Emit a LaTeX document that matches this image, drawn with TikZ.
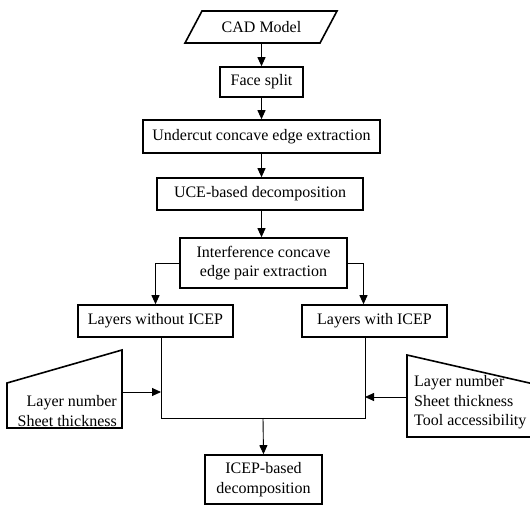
\documentclass[tikz,border=0pt]{standalone}
\usepackage{fontspec}
\setmainfont{Liberation Serif}
\usetikzlibrary{arrows.meta,calc}
\tikzset{
  box/.style={draw, line width=1.6pt, rectangle, inner sep=0pt, align=center, font=\fontsize{16}{19.5}\selectfont},
  txt/.style={inner sep=0pt, font=\fontsize{16}{19.5}\selectfont},
  conn/.style={line width=0.9pt},
  arr/.style={line width=0.9pt, -{Triangle[length=9pt,width=8pt]}},
  shp/.style={line width=1.6pt},
}
\begin{document}
\begin{tikzpicture}[x=1pt,y=-1pt]
\useasboundingbox (0,0) rectangle (530,506);
\clip (0,0) rectangle (530,506);
% CAD model (data shape)
\draw[shp] (202,11) -- (337,11) -- (320,43) -- (185,43) -- cycle;
\node[txt, minimum width=118pt, minimum height=32pt] (cad) at (261.5,27) {CAD Model};
% process boxes
\node[box, minimum width=83pt, minimum height=30pt] (face) at (261.5,82) {Face split};
\node[box, minimum width=237pt, minimum height=33pt] (under) at (261.5,136.5) {Undercut concave edge extraction};
\node[box, minimum width=206pt, minimum height=32pt] (uce) at (260,194) {UCE-based decomposition};
\node[box, minimum width=167pt, minimum height=50pt] (interf) at (263.5,263) {Interference concave\\edge pair extraction};
\node[box, minimum width=155pt, minimum height=32pt] (lwo) at (155.5,321) {Layers without ICEP};
\node[box, minimum width=145pt, minimum height=32pt] (lw) at (374.5,321) {Layers with ICEP};
\node[box, minimum width=117pt, minimum height=49pt] (icep) at (263.5,479.5) {ICEP-based\\decomposition};
% manual input shapes
\draw[shp] (7,383) -- (122,350) -- (122,428) -- (7,428) -- cycle;
\node[txt, align=right, anchor=east] (lin) at (117,411) {Layer number\\Sheet thickness};
\draw[shp] (407,355) -- (560,390) -- (560,437) -- (407,437) -- cycle;
\node[txt, align=left, anchor=west] (rin) at (414,402.5) {Layer number\\Sheet thickness\\Tool accessibility};
% coordinates
\coordinate (linR) at (122,392);
\coordinate (rinL) at (407,397);
\coordinate (mL) at (161,418);
\coordinate (mR) at (365,418);
\coordinate (mC) at (263,418);
\coordinate (mLa) at (161,392);
\coordinate (mRa) at (365,397);
% connectors
\draw[arr] (cad.south) -- (face.north);
\draw[arr] (face.south) -- (under.north);
\draw[arr] (under.south) -- (under.south |- uce.north);
\draw[arr] (uce.south -| under.south) -- (under.south |- interf.north);
\draw[arr] (interf.west) -| (lwo.north);
\draw[arr] (interf.east) -| ([xshift=-11pt]lw.north);
\draw[conn] ([xshift=5.5pt]lwo.south) -- (mL) -- (mR) -- ([xshift=-9.5pt]lw.south);
\draw[arr] (linR) -- (mLa);
\draw[arr] (rinL) -- (mRa);
\draw[arr] (mC) -- (icep.north);
\end{tikzpicture}
\end{document}
